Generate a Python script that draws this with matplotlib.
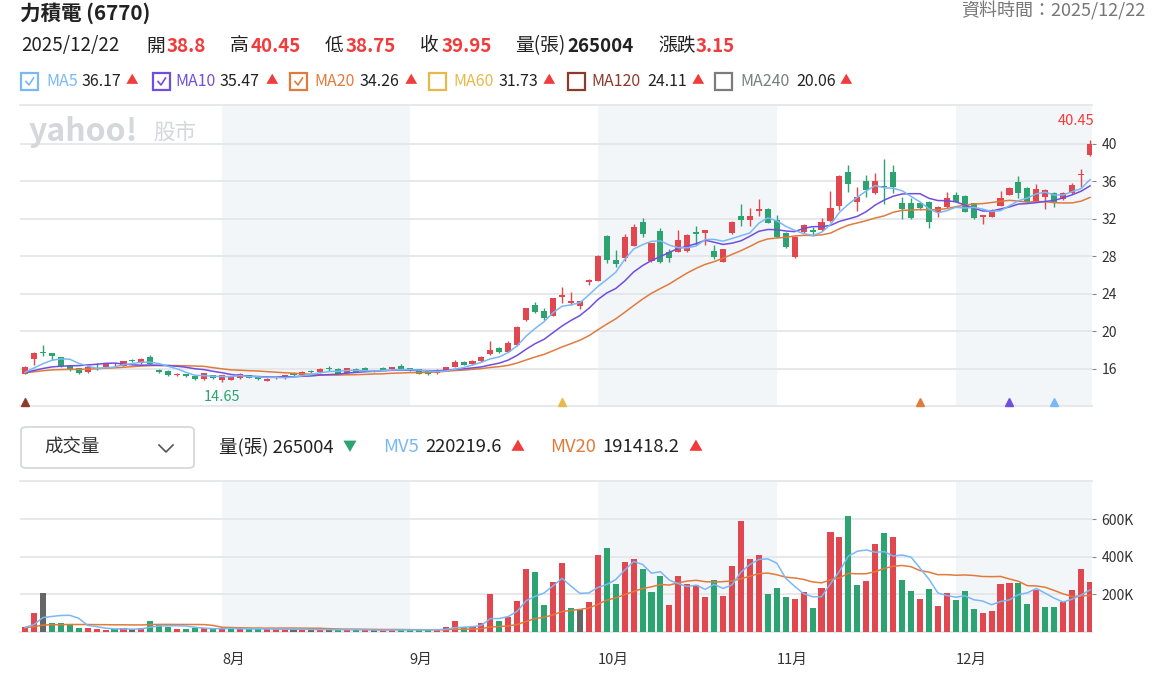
import numpy as np
import pandas as pd
import matplotlib.pyplot as plt
from matplotlib.patches import Rectangle, FancyBboxPatch
from matplotlib.lines import Line2D

plt.rcParams['font.family'] = ['Noto Sans CJK TC', 'DejaVu Sans']

# ---- data ----
month_labels = ['7月', '8月', '9月', '10月', '11月', '12月']
days_per_month = [22, 21, 21, 20, 20, 16]

opens = [15.5, 17.1, 17.8, 17.7, 17.25, 16.3, 16.05, 15.65, 16.35, 16.2,
         16.4, 16.35, 16.95, 16.6, 17.3, 15.9, 15.8, 15.4, 15.45, 15.3,
         14.9, 15.35, 14.8, 14.85, 15.0, 15.35, 15.2, 14.75, 15.0, 15.0,
         15.6, 15.35, 15.8, 15.65, 16.05, 16.0, 15.55, 16.0, 16.1, 15.75,
         16.1, 15.95, 16.3, 16.05, 15.95, 15.8, 15.55, 15.8, 16.25, 16.7,
         16.5, 16.8, 17.55, 18.2, 17.85, 18.55, 21.2, 22.8, 22.2, 21.7,
         23.7, 23.0, 22.7, 25.3, 25.4, 30.2, 27.6, 27.85, 29.15, 31.65,
         27.5, 30.7, 28.5, 28.5, 28.6, 30.6, 30.45, 28.6, 27.45, 30.45,
         32.3, 31.9, 32.85, 33.1, 31.9, 30.45, 27.9, 30.65, 30.8, 30.8,
         31.75, 33.4, 37.0, 33.85, 36.0, 34.75, 35.55, 37.0, 33.65, 33.75,
         33.65, 33.85, 32.75, 33.3, 34.6, 34.45, 33.65, 32.25, 32.25, 33.4,
         34.55, 35.9, 35.25, 33.85, 34.35, 34.8, 34.1, 34.75, 36.65, 38.8]
highs = [16.3, 17.85, 18.55, 17.75, 17.3, 16.35, 16.1, 16.3, 16.6, 16.55,
         16.6, 16.9, 17.05, 17.2, 17.45, 15.95, 15.85, 15.6, 15.5, 15.35,
         15.6, 15.4, 15.4, 15.15, 15.6, 15.4, 15.25, 15.0, 15.15, 15.4,
         15.65, 15.8, 15.85, 16.05, 16.3, 16.05, 16.1, 16.05, 16.25, 15.9,
         16.2, 16.25, 16.55, 16.1, 16.0, 15.85, 15.95, 16.25, 17.0, 16.8,
         17.0, 17.35, 18.95, 18.3, 19.0, 20.6, 22.5, 23.1, 22.55, 23.6,
         24.7, 24.2, 23.3, 25.55, 28.1, 30.25, 28.7, 30.4, 31.5, 32.1,
         29.45, 31.0, 28.8, 30.85, 30.35, 31.2, 30.85, 29.2, 28.8, 31.75,
         33.6, 33.2, 34.15, 33.15, 32.45, 30.6, 30.15, 31.5, 31.1, 32.1,
         34.95, 36.65, 37.8, 35.4, 36.7, 36.9, 38.4, 37.8, 34.3, 34.2,
         33.85, 33.9, 33.35, 34.9, 34.9, 34.6, 33.7, 32.45, 33.1, 35.0,
         35.4, 36.6, 35.4, 35.75, 35.2, 34.85, 34.85, 35.8, 37.3, 40.45]
lows = [15.45, 16.4, 17.4, 17.0, 16.25, 15.8, 15.5, 15.6, 15.9, 16.15,
        16.3, 16.3, 16.7, 16.55, 16.45, 15.6, 15.3, 15.3, 15.15, 14.85,
        14.85, 14.95, 14.65, 14.8, 14.95, 15.0, 14.85, 14.7, 14.95, 14.95,
        15.3, 15.3, 15.55, 15.6, 15.8, 15.45, 15.5, 15.65, 15.75, 15.7,
        15.85, 15.9, 15.9, 15.8, 15.45, 15.4, 15.5, 15.75, 16.2, 16.4,
        16.45, 16.75, 17.5, 17.7, 17.8, 18.5, 21.1, 22.0, 21.25, 21.65,
        23.0, 22.8, 22.4, 25.0, 25.35, 27.35, 26.85, 27.5, 29.1, 30.1,
        27.45, 27.3, 27.45, 28.45, 28.5, 29.2, 29.2, 27.7, 27.4, 30.4,
        31.2, 31.2, 32.35, 31.55, 30.0, 28.9, 27.85, 30.5, 30.2, 30.75,
        31.7, 32.9, 34.85, 32.8, 34.3, 34.7, 33.55, 34.8, 32.0, 32.0,
        32.9, 31.0, 32.25, 33.2, 33.8, 32.7, 32.0, 31.5, 32.2, 33.35,
        34.5, 34.2, 33.8, 33.8, 33.1, 33.3, 34.05, 34.7, 35.4, 38.75]
closes = [16.2, 17.75, 17.75, 17.4, 16.3, 16.0, 15.55, 16.25, 16.3, 16.5,
          16.45, 16.8, 16.8, 17.05, 16.5, 15.7, 15.35, 15.45, 15.2, 14.9,
          15.55, 15.0, 15.35, 15.1, 15.45, 15.05, 14.9, 14.95, 15.1, 15.35,
          15.35, 15.65, 15.65, 16.0, 16.0, 15.5, 16.05, 15.7, 15.8, 15.8,
          15.9, 16.2, 15.95, 15.85, 15.5, 15.45, 15.9, 16.2, 16.75, 16.45,
          16.85, 17.3, 18.05, 17.8, 18.75, 20.5, 22.45, 22.1, 21.4, 23.55,
          23.9, 23.25, 23.25, 25.5, 28.05, 27.6, 27.15, 30.05, 31.1, 30.35,
          29.4, 27.4, 27.8, 29.7, 30.3, 30.4, 30.8, 27.9, 28.75, 31.7,
          31.9, 32.3, 33.1, 31.6, 30.05, 29.05, 30.1, 31.35, 30.65, 31.7,
          33.2, 36.6, 35.7, 34.35, 35.1, 36.05, 35.4, 35.45, 33.05, 32.05,
          33.15, 31.7, 33.3, 34.2, 33.85, 32.75, 32.05, 32.4, 32.95, 34.25,
          35.35, 34.75, 33.85, 35.2, 35.1, 33.85, 34.8, 35.6, 36.8, 39.95]
# volume in thousands of 張
volumes_k = [29, 102, 209, 49, 49, 35, 22, 22, 15, 8,
             15, 22, 15, 22, 56, 44, 29, 15, 15, 22,
             22, 15, 15, 22, 15, 15, 15, 15, 15, 15,
             15, 12, 10, 12, 15, 12, 12, 10, 10, 8,
             10, 15, 12, 10, 10, 10, 14, 24, 56, 24,
             24, 49, 204, 56, 78, 164, 332, 317, 145, 266,
             364, 127, 124, 157, 410, 444, 257, 371, 390, 332,
             211, 298, 145, 296, 257, 248, 186, 278, 189, 349,
             589, 390, 410, 204, 236, 186, 177, 212, 125, 236,
             532, 506, 618, 252, 271, 470, 524, 502, 278, 216,
             177, 230, 136, 209, 172, 216, 124, 102, 109, 257,
             262, 262, 150, 225, 131, 131, 159, 225, 337, 265.004]
# June history, only used to warm up the moving averages
prior_closes = [15.6, 15.5, 15.7, 15.6, 15.5, 15.6, 15.7, 15.5, 15.4, 15.6,
                15.5, 15.6, 15.7, 15.6, 15.5, 15.4, 15.5, 15.6, 15.5]
prior_volumes_k = [22, 25, 20, 28, 24, 21, 26, 23, 20, 25,
                   22, 27, 24, 21, 23, 26, 22, 20, 24]

# cross signal markers (bar index, colour)
signal_bars = [0, 60, 100, 110, 115]
signal_colors = ['#8c3b2b', '#e8b84a', '#e07b3c', '#6f4ee0', '#7ab8f5']

RED = '#e0474f'
GREEN = '#2da372'
GRAY = '#666666'
TXT_RED = '#f03c3c'
GRID = '#e4e6e9'
SHADE = '#f3f6f9'
C_MA5, C_MA10, C_MA20 = '#7ab8f5', '#6f4ee0', '#e07b3c'

o = np.array(opens); h = np.array(highs); l = np.array(lows); c = np.array(closes)
v = np.array(volumes_k) * 1000
n = len(c)
x = np.arange(n)

all_c = pd.Series(prior_closes + closes)
all_v = pd.Series(prior_volumes_k + volumes_k) * 1000
k = len(prior_closes)
ma5 = all_c.rolling(5).mean().to_numpy()[k:]
ma10 = all_c.rolling(10).mean().to_numpy()[k:]
ma20 = all_c.rolling(20).mean().to_numpy()[k:]
mv5 = all_v.rolling(5).mean().to_numpy()[k:]
mv20 = all_v.rolling(20).mean().to_numpy()[k:]

W, H = 1163, 676
def fx(px): return px / W
def fy(py): return 1 - py / H

fig = plt.figure(figsize=(W / 100, H / 100), dpi=100)
ax = fig.add_axes([fx(20), fy(406), fx(1072), 301 / H])
axv = fig.add_axes([fx(20), fy(632), fx(1072), 151 / H])

xlim = (-0.56, n - 1 + 0.22)
starts = np.cumsum([0] + days_per_month[:-1])

for a in (ax, axv):
    a.set_xlim(*xlim)
    for i, s in enumerate(starts):
        if i % 2 == 1:
            end = starts[i + 1] if i + 1 < len(starts) else xlim[1]
            a.axvspan(s, end, color=SHADE, zorder=0, lw=0)
    for sp in ('left', 'right'):
        a.spines[sp].set_visible(False)
    for sp in ('top', 'bottom'):
        a.spines[sp].set_color(GRID)
        a.spines[sp].set_linewidth(1.3)
    a.set_xticks([])
    a.yaxis.tick_right()
    a.tick_params(axis='y', length=3, color='#888888', labelsize=10,
                  labelcolor='#333333', pad=4)
    a.grid(axis='y', color=GRID, lw=1.3, zorder=0)

# ---- candles ----
up = c >= o
col = np.where(up, RED, GREEN)
ax.vlines(x, l, h, colors=col, lw=1, zorder=3)
body = np.maximum(np.abs(c - o), 0.06)
ax.bar(x, body, bottom=np.minimum(o, c), width=0.68, color=col, zorder=4, lw=0)

ax.plot(x, ma20, color=C_MA20, lw=1.1, zorder=5)
ax.plot(x, ma10, color=C_MA10, lw=1.1, zorder=5)
ax.plot(x, ma5, color=C_MA5, lw=1.1, zorder=5)

ax.set_ylim(12.05, 44.15)
ax.set_yticks([16, 20, 24, 28, 32, 36, 40])

imin = int(np.argmin(l)); imax = int(np.argmax(h))
ax.annotate(f'{l[imin]:.2f}', xy=(imin, l[imin]), xytext=(0, -15),
            textcoords='offset pixels', ha='center', va='center',
            color=GREEN, fontsize=10.5)
ax.annotate(f'{h[imax]:.2f}', xy=(imax, h[imax]), xytext=(4, 19),
            textcoords='offset pixels', ha='right', va='center',
            color=TXT_RED, fontsize=10.5)

for b, sc in zip(signal_bars, signal_colors):
    ax.plot(b, 0.012, marker='^', ms=5.5, color=sc, transform=ax.get_xaxis_transform(),
            clip_on=False, zorder=6)

# ---- volume ----
prev = np.concatenate([[prior_closes[-1]], c[:-1]])
vcol = np.where(c > prev, RED, np.where(c < prev, GREEN, GRAY))
axv.bar(x, v, width=0.68, color=vcol, zorder=3, lw=0)
axv.plot(x, mv20, color=C_MA20, lw=1.1, zorder=5)
axv.plot(x, mv5, color=C_MA5, lw=1.1, zorder=5)
axv.set_ylim(0, 802000)
axv.set_yticks([200000, 400000, 600000])
axv.set_yticklabels(['200K', '400K', '600K'])

for lab, s in zip(month_labels[1:], starts[1:]):
    axv.text(s, -0.185, lab, transform=axv.get_xaxis_transform(), ha='left',
             va='center', fontsize=10.5, color='#333333')

# ---- header ----
def t(px, py, s, **kw):
    kw.setdefault('va', 'center')
    kw.setdefault('fontsize', 13.3)
    kw.setdefault('color', '#222222')
    fig.text(fx(px), fy(py), s, **kw)

t(20, 13, '力積電 (6770)', fontsize=14.8, fontweight='bold')
t(1145, 11, '資料時間：2025/12/22', ha='right', color='#777777', fontsize=13)

row2 = [(21, '2025/12/22', '#222222', 'normal'),
        (146, '開', '#222222', 'normal'), (167, '38.8', TXT_RED, 'bold'),
        (230, '高', '#222222', 'normal'), (251, '40.45', TXT_RED, 'bold'),
        (325, '低', '#222222', 'normal'), (346, '38.75', TXT_RED, 'bold'),
        (420, '收', '#222222', 'normal'), (442, '39.95', TXT_RED, 'bold'),
        (515, '量(張)', '#222222', 'normal'), (567, '265004', '#222222', 'bold'),
        (658, '漲跌', '#222222', 'normal'), (696, '3.15', TXT_RED, 'bold')]
for px, s, cc, fw in row2:
    t(px, 46, s, color=cc, fontweight=fw, fontsize=13.5)

legend = [(21, 'MA5', '36.17', C_MA5, True, 46, 82, 126),
          (153, 'MA10', '35.47', C_MA10, True, 175, 220, 266),
          (290, 'MA20', '34.26', C_MA20, True, 314, 360, 405),
          (429, 'MA60', '31.73', '#e8b84a', False, 453, 499, 543),
          (568, 'MA120', '24.11', '#8c3b2b', False, 591, 647, 692),
          (715, 'MA240', '20.06', '#7a7d80', False, 740, 796, 840)]
for bx, name, val, cc, checked, nx, vx, tx in legend:
    fig.add_artist(Rectangle((fx(bx), fy(89.5)), 17 / W, 17 / H, transform=fig.transFigure,
                             fill=False, edgecolor=cc, lw=1.6))
    if checked:
        fig.add_artist(Line2D([fx(bx + 5), fx(bx + 8), fx(bx + 12.5)],
                              [fy(81.5), fy(85), fy(78)], color=cc, lw=1.2,
                              transform=fig.transFigure))
    t(nx, 81, name, color=cc, fontsize=11.5)
    t(vx, 81, val, fontsize=11.5)
    t(tx, 81, '▲', color=TXT_RED, fontsize=9)

# watermark
t(29, 132, 'yahoo!', color='#d4d7db', fontsize=23, fontweight='bold', style='italic')
t(153, 133, '股市', color='#d4d7db', fontsize=15.5)

# volume header
fig.add_artist(FancyBboxPatch((fx(21), fy(468)), 173 / W, 41 / H, transform=fig.transFigure,
                              boxstyle='round,pad=0,rounding_size=0.005',
                              fill=False, edgecolor='#d5d8dc', lw=1.3))
t(44, 448, '成交量', color='#333333')
fig.add_artist(Line2D([fx(159), fx(166), fx(173)], [fy(445), fy(452), fy(445)],
                      color='#555555', lw=1.2, transform=fig.transFigure))
t(219, 447, '量(張) 265004')
t(343, 447, '▼', color=GREEN, fontsize=10)
t(383, 447, 'MV5', color=C_MA5)
t(425, 447, '220219.6')
t(511, 447, '▲', color=TXT_RED, fontsize=10)
t(550, 447, 'MV20', color=C_MA20)
t(602, 447, '191418.2')
t(689, 447, '▲', color=TXT_RED, fontsize=10)

fig.savefig('out.png', dpi=100, facecolor='white')
